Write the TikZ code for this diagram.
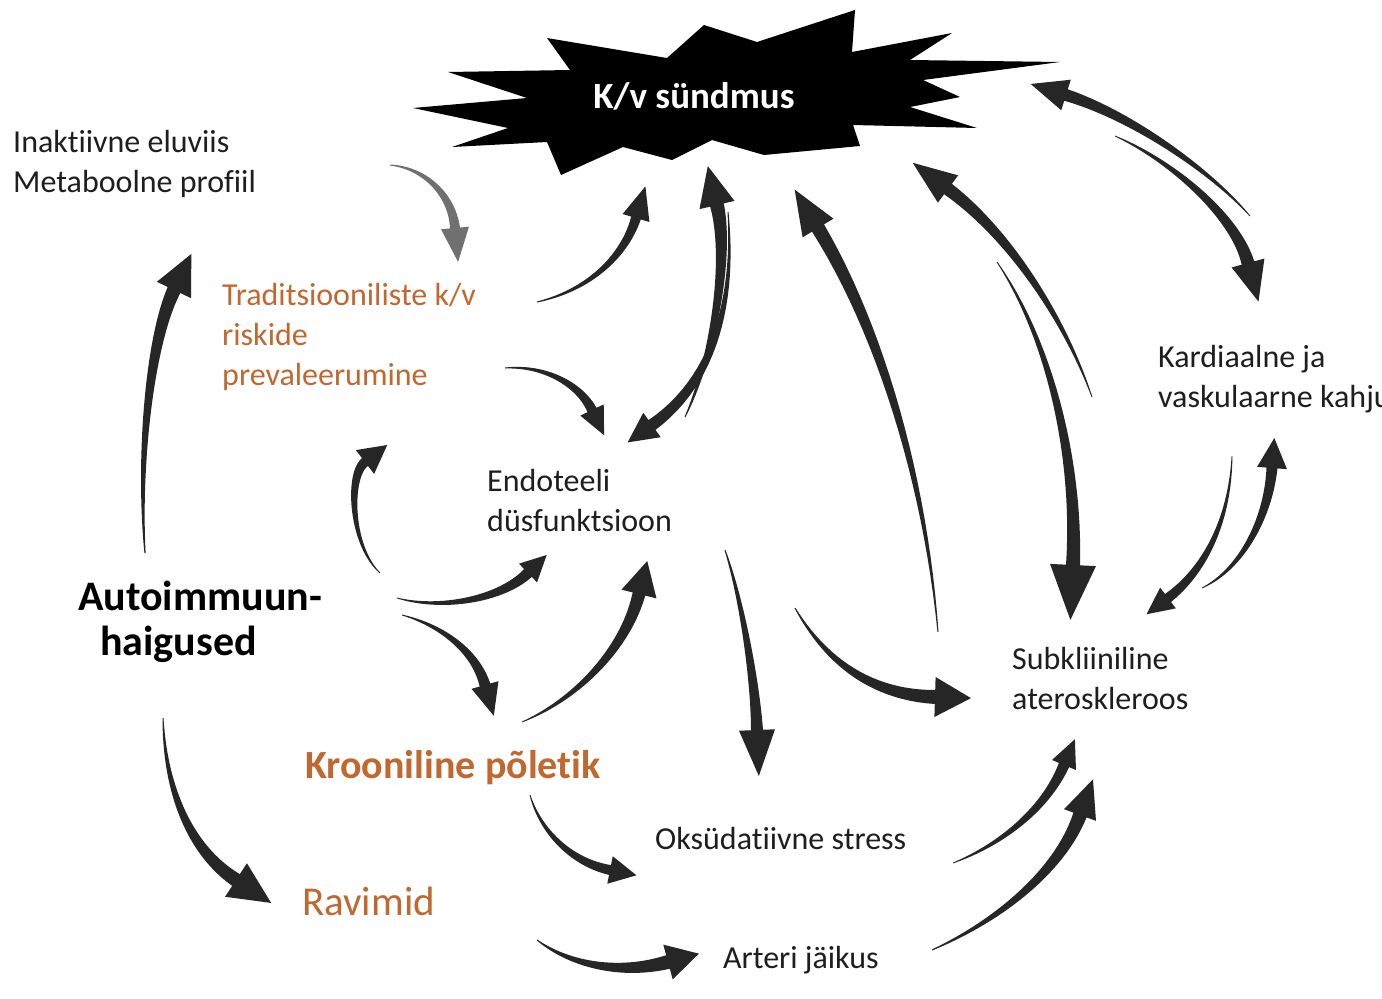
\documentclass[tikz,border=0pt]{standalone}
\usepackage{fontspec}
\setmainfont{Carlito}[Ligatures=NoCommon]
\usetikzlibrary{calc}
\definecolor{arrowblack}{HTML}{262626}
\definecolor{arrowgray}{HTML}{707070}
\definecolor{txtorange}{RGB}{192,104,48}
\definecolor{txtdark}{HTML}{1E1E1E}
\tikzset{
  tafill/.style={fill=arrowblack},
  lbl/.style={inner sep=0pt, text=txtdark, font=\fontsize{32}{40}\selectfont, align=left},
  olbl/.style={lbl, text=txtorange},
}
% #1 name, #2 tail, #3 c1, #4 c2, #5 head base, #6 tail half width, #7 shaft half width at head,
% #8 head length, #9 head half width
\newcommand\tarrow[9]{%
  \coordinate (#1-s) at (#2);
  \coordinate (#1-e) at (#5);
  \foreach \k in {0,...,24}{%
    \pgfmathsetmacro\tpos{\k/24}%
    \path (#1-s) .. controls (#3) and (#4) .. (#1-e) coordinate[pos=\tpos] (#1-p\k);
  }%
  \foreach \k in {0,...,23}{%
    \pgfmathtruncatemacro\kn{\k+1}%
    \pgfmathsetmacro\ww{#6+(#7-#6)*\k/24}%
    \path ($(#1-p\k)!\ww pt!90:(#1-p\kn)$) coordinate (#1-L\k)
          ($(#1-p\k)!\ww pt!-90:(#1-p\kn)$) coordinate (#1-R\k);
  }%
  \path ($(#1-e)!#8pt!180:(#4)$) coordinate (#1-tip);
  \path ($(#1-e)!#7pt!90:(#1-tip)$) coordinate (#1-L24)
        ($(#1-e)!#7pt!-90:(#1-tip)$) coordinate (#1-R24);
  \path ($(#1-e)!#9pt!90:(#1-tip)$) coordinate (#1-bl)
        ($(#1-e)!#9pt!-90:(#1-tip)$) coordinate (#1-br);
  \fill[tafill] (#1-L0) \foreach \k in {1,...,24}{ -- (#1-L\k)} -- (#1-bl) -- (#1-tip)
     -- (#1-br) \foreach \k in {24,...,0}{ -- (#1-R\k)} -- cycle;
}
\begin{document}
\begin{tikzpicture}[x=1pt,y=-1pt]
\useasboundingbox (0,0) rectangle (1382,999);
\fill[white] (0,0) rectangle (1382,999);

% starburst
\fill[black] (413,108) -- (527,98) -- (448,72) -- (570,70) -- (547,38) -- (667,58)
  -- (704,25) -- (757,42) -- (855,10) -- (852,52) -- (952,33) -- (910,60)
  -- (1060,62) -- (923,80) -- (960,97) -- (910,107) -- (977,128) -- (853,125)
  -- (860,146) -- (764,155) -- (712,140) -- (672,160) -- (623,147)
  -- (561,175) -- (547,142) -- (452,147) -- (508,128) -- cycle;
\node[inner sep=0pt, text=white, font=\bfseries\fontsize{37}{44}\selectfont] (kv) at (694,96) {K/v sündmus};

% labels
\node[lbl, anchor=north west] (inak) at (13,130) {Inaktiivne eluviis\\Metaboolne profiil};
\node[olbl, anchor=north west] (trad) at (222,283) {Traditsiooniliste k/v\\riskide\\prevaleerumine};
\node[lbl, anchor=north west] (endo) at (487,469) {Endoteeli\\düsfunktsioon};
\node[inner sep=0pt, text=black, font=\bfseries\fontsize{42}{48}\selectfont, anchor=base west] (auto1) at (78,610) {Autoimmuun-};
\node[inner sep=0pt, text=black, font=\bfseries\fontsize{42}{48}\selectfont, anchor=base west] (auto2) at (100,655) {haigused};
\node[inner sep=0pt, text=txtorange, font=\bfseries\fontsize{40}{48}\selectfont, anchor=base west] (kroon) at (305,778) {Krooniline põletik};
\node[inner sep=0pt, text=txtorange, font=\fontsize{41}{48}\selectfont, anchor=base west] (ravi) at (302,915) {Ravimid};
\node[lbl, anchor=base west] (oks) at (655,849) {Oksüdatiivne stress};
\node[lbl, anchor=base west] (art) at (723,968) {Arteri jäikus};
\node[lbl, anchor=north west] (subk) at (1012,647) {Subkliiniline\\ateroskleroos};
\node[lbl, anchor=north west] (kard) at (1158,345) {Kardiaalne ja\\vaskulaarne kahju};

% arrows
\tarrow{a1}{145,553}{138,460}{150,340}{174,290}{0.6}{7}{40}{19}
\begin{scope}[tafill/.style={fill=arrowgray}]
\tarrow{a2}{390,165}{425,168}{452,195}{455,228}{0.5}{5}{34}{14}
\end{scope}
\tarrow{a3}{537,302}{590,290}{625,255}{636,218}{0.5}{5}{33}{14}
\tarrow{a4}{505,368}{545,365}{580,385}{592,410}{0.5}{5}{28}{13}
\tarrow{a5a}{685,417}{712,360}{730,260}{717,205}{0.5}{7}{40}{18}
\tarrow{a5b}{728,212}{735,300}{715,380}{652,425}{0.5}{6}{30}{15}
\tarrow{a6}{938,632}{925,480}{880,330}{818,228}{0.5}{7}{45}{18}
\tarrow{a7a}{1092,397}{1065,320}{1010,235}{948,189}{0.4}{6.5}{44}{17}
\tarrow{a7b}{997,262}{1050,340}{1078,460}{1073,565}{0.4}{7}{55}{23}
\tarrow{a8a}{1250,216}{1210,170}{1130,115}{1066,95}{0.4}{6}{37}{16}
\tarrow{a8b}{1115,136}{1170,160}{1235,215}{1248,263}{0.4}{6.5}{40}{17}
\tarrow{a9a}{1232,456}{1230,520}{1205,570}{1168,598}{0.4}{5}{27}{13}
\tarrow{a9b}{1202,588}{1240,570}{1268,520}{1272,468}{0.4}{5.5}{30}{15}
\tarrow{a10}{725,550}{742,600}{755,680}{757,730}{0.5}{6}{46}{18}
\tarrow{a11}{795,608}{825,660}{870,695}{935,697}{0.5}{7}{36}{20}
\tarrow{a12}{397,598}{440,610}{500,600}{528,573}{0.4}{5.5}{26}{13}
\tarrow{a13}{380,573}{350,545}{348,475}{365,462}{0.4}{5}{28}{15}
\tarrow{a14}{402,615}{440,625}{475,650}{485,685}{0.4}{5.5}{32}{14}
\tarrow{a15}{522,722}{575,700}{625,650}{639,594}{0.4}{6.5}{34}{18}
\tarrow{a16}{163,718}{165,790}{190,850}{236,880}{0.5}{7}{42}{20}
\tarrow{a17}{530,795}{540,830}{570,862}{610,870}{0.4}{5}{27}{14}
\tarrow{a18}{537,940}{570,965}{620,975}{668,962}{0.5}{7}{32}{18}
\tarrow{a19}{953,863}{1000,845}{1045,810}{1064,765}{0.4}{5.5}{28}{13}
\tarrow{a20}{932,950}{1000,920}{1060,870}{1080,815}{0.5}{7}{38}{17}
\end{tikzpicture}
\end{document}
